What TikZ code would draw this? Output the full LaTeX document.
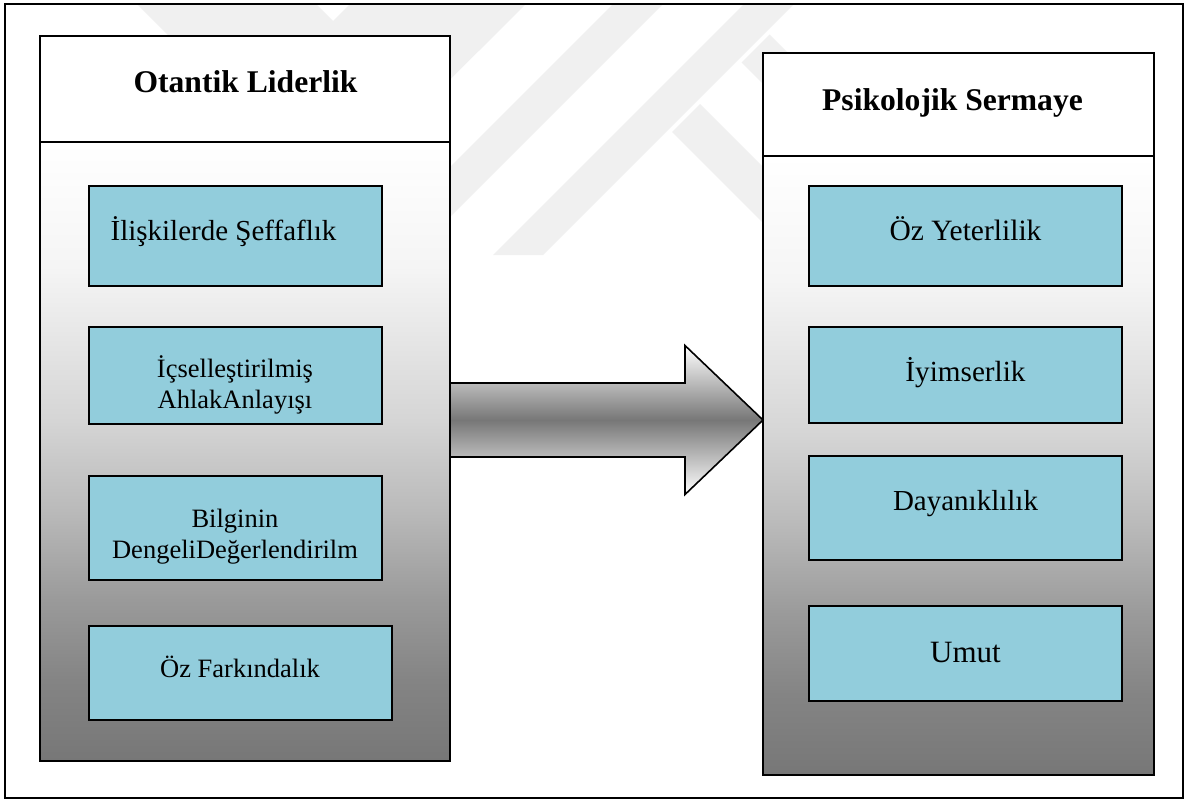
\documentclass[tikz,border=0pt]{standalone}
\usepackage{fontspec}
\setmainfont{Liberation Serif}
\usetikzlibrary{calc}
\definecolor{boxblue}{RGB}{146,205,220}
\definecolor{wmgray}{RGB}{240,240,240}
\definecolor{pgA}{RGB}{119,119,119}
\definecolor{pgB}{RGB}{132,132,132}
\definecolor{pgC}{RGB}{154,154,154}
\definecolor{pgD}{RGB}{185,185,185}
\definecolor{pgE}{RGB}{213,213,213}
\definecolor{pgF}{RGB}{245,245,245}
\definecolor{arrgray}{RGB}{119,119,119}
\pgfdeclareverticalshading{panelshade}{100bp}{color(0bp)=(pgA); color(25bp)=(pgA); color(31.5bp)=(pgB); color(38bp)=(pgC); color(45bp)=(pgD); color(52.5bp)=(pgE); color(65bp)=(pgF); color(75bp)=(white); color(100bp)=(white)}
\begin{document}
\begin{tikzpicture}[x=1pt,y=-1pt,
  outerframe/.style={rectangle, draw=black, line width=2.5pt, inner sep=0pt, outer sep=0pt, anchor=north west},
  phead/.style={rectangle, draw=black, line width=1.6pt, fill=white, inner sep=0pt, outer sep=0pt, anchor=north west},
  pbody/.style={rectangle, draw=black, line width=1.6pt, shade, shading=panelshade, inner sep=0pt, outer sep=0pt, anchor=north west},
  itembox/.style={rectangle, draw=black, line width=2pt, fill=boxblue, inner sep=0pt, outer sep=0pt, anchor=north west},
  ttext/.style={anchor=base, inner sep=0pt, font=\fontsize{31.6}{38}\selectfont\bfseries},
  btext/.style={anchor=base, inner sep=0pt, font=\fontsize{#1}{31}\selectfont},
  bigarrow/.style={draw=black, line width=1.6pt, top color=white, bottom color=white, middle color=arrgray},
  wm/.style={fill=wmgray, draw=none}]
\useasboundingbox (0,0) rectangle (1192,801);
\fill[white] (0,0) rectangle (1192,801);
% watermark
\begin{scope}
\clip (5,4) rectangle (1183,798);
\fill[wm] (133,0) -- (331,198) -- (530,0) -- (354,0) -- (333,21) -- (312,0) -- cycle;
\fill[wm] (617,0) -- (667,0) -- (420,247) -- (370,247) -- cycle;
\fill[wm] (748,0) -- (798,0) -- (543,255) -- (493,255) -- cycle;
\fill[wm] (672,132) -- (700,104) -- (850,254) -- (850,310) -- cycle;
\fill[wm] (741.5,62.5) -- (769.5,34.5) -- (850,115) -- (850,171) -- cycle;
\end{scope}
% outer frame
\node[outerframe, minimum width=1178, minimum height=794] (frame) at (5,4) {};
% panels
\node[phead, minimum width=410, minimum height=106] (lhead) at (40,36) {};
\node[pbody, minimum width=410, minimum height=619] (lbody) at (40,142) {};
\node[phead, minimum width=391, minimum height=103] (rhead) at (763,53) {};
\node[pbody, minimum width=391, minimum height=619] (rbody) at (763,156) {};
% boxes
\node[itembox, minimum width=293, minimum height=100] (l1) at (89,186) {};
\node[itembox, minimum width=293, minimum height=97] (l2) at (89,327) {};
\node[itembox, minimum width=293, minimum height=104] (l3) at (89,476) {};
\node[itembox, minimum width=303, minimum height=94] (l4) at (89,626) {};
\node[itembox, minimum width=313, minimum height=100] (r1) at (809,186) {};
\node[itembox, minimum width=313, minimum height=96] (r2) at (809,327) {};
\node[itembox, minimum width=313, minimum height=104] (r3) at (809,456) {};
\node[itembox, minimum width=313, minimum height=95] (r4) at (809,606) {};
% block arrow
\coordinate (atail) at (lbody.east |- 0,420);
\coordinate (atip) at (rbody.west |- 0,420);
\draw[bigarrow] (atail) ++(0,-37) -- ++(235,0) -- ++(0,-37.5) -- (atip) -- ++(-78,74.5) -- ++(0,-37.5) -- ++(-235,0) -- cycle;
% texts
\node[ttext] (ttl) at (245.5,92) {Otantik Liderlik};
\node[ttext] (ttr) at (952.5,110) {Psikolojik Sermaye};
\node[btext=29] (l1t) at (223.5,240) {İlişkilerde Şeffaflık};
\node[btext=26.5] (l2t) at (235,377) {\begin{tabular}[t]{@{}c@{}}İçselleştirilmiş\\AhlakAnlayışı\end{tabular}};
\node[btext=26.5] (l3t) at (235,527) {\begin{tabular}[t]{@{}c@{}}Bilginin\\DengeliDeğerlendirilm\end{tabular}};
\node[btext=26.5] (l4t) at (240,677) {Öz Farkındalık};
\node[btext=29.5] (r1t) at (965.5,240) {Öz Yeterlilik};
\node[btext=29.2] (r2t) at (965.5,381) {İyimserlik};
\node[btext=29] (r3t) at (965.5,510) {Dayanıklılık};
\node[btext=31] (r4t) at (965.5,662) {Umut};
\end{tikzpicture}
\end{document}
